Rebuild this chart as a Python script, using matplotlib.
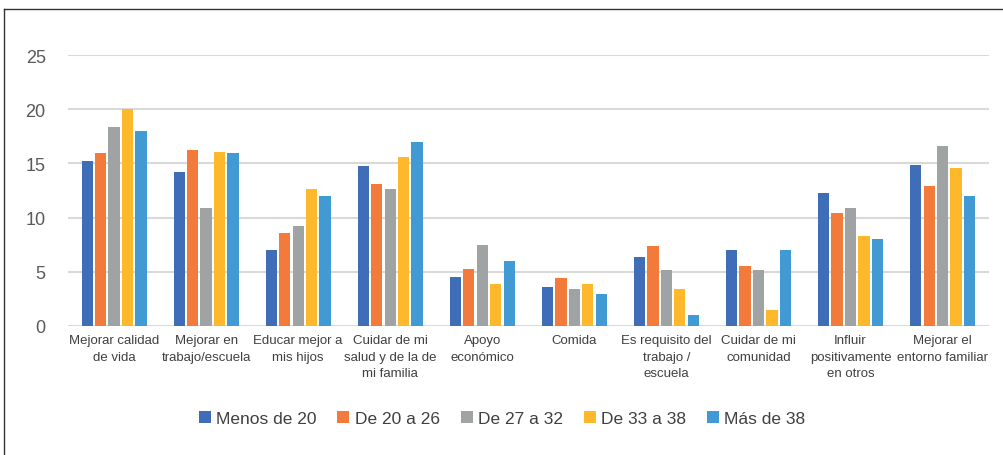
import numpy as np
import matplotlib
matplotlib.use("Agg")
import matplotlib.pyplot as plt
from matplotlib.lines import Line2D
from matplotlib.patches import Patch

categories = [
    "Mejorar calidad\nde vida",
    "Mejorar en\ntrabajo/escuela",
    "Educar mejor a\nmis hijos",
    "Cuidar de mi\nsalud y de la de\nmi familia",
    "Apoyo\neconómico",
    "Comida",
    "Es requisito del\ntrabajo /\nescuela",
    "Cuidar de mi\ncomunidad",
    "Influir\npositivamente\nen otros",
    "Mejorar el\nentorno familiar",
]
series_names = ["Menos de 20", "De 20 a 26", "De 27 a 32", "De 33 a 38", "Más de 38"]
menos_20 = [15.25, 14.2, 7.0, 14.8, 4.5, 3.55, 6.35, 7.0, 12.3, 14.9]
de_20_26 = [16.0, 16.2, 8.6, 13.1, 5.3, 4.4, 7.35, 5.5, 10.45, 12.9]
de_27_32 = [18.4, 10.9, 9.2, 12.6, 7.5, 3.4, 5.15, 5.15, 10.9, 16.6]
de_33_38 = [20.0, 16.1, 12.65, 15.6, 3.9, 3.9, 3.4, 1.45, 8.3, 14.6]
mas_38 = [18.0, 16.0, 12.0, 17.0, 6.0, 2.95, 1.0, 7.0, 8.0, 12.0]
yticks = [0, 5, 10, 15, 20, 25]

series = [menos_20, de_20_26, de_27_32, de_33_38, mas_38]
colors = ["#3F6DB7", "#F27A3A", "#A0A3A4", "#FDB82B", "#419AD3"]

plt.rcParams["font.family"] = ["Liberation Sans Narrow", "Liberation Sans", "DejaVu Sans"]

fig = plt.figure(figsize=(10.04, 4.56), dpi=100)
ax = fig.add_axes([0.0677, 0.283, 0.917, 0.594])

x = np.arange(len(categories))
step = 0.146
for i, (vals, col) in enumerate(zip(series, colors)):
    ax.bar(x + (i - 2) * step, vals, width=0.122, color=col, zorder=3)

ax.set_xlim(-0.5, len(categories) - 0.5)
ax.set_ylim(0, 25)
ax.set_yticks(yticks)
ax.set_yticklabels([str(t) for t in yticks], fontsize=13, color="#595959")
ax.grid(axis="y", color="#D9D9D9", linewidth=1.5, zorder=0)
ax.set_axisbelow(True)
for s in ax.spines.values():
    s.set_visible(False)
ax.tick_params(axis="y", length=0, pad=16)
ax.tick_params(axis="x", length=0, pad=6)
ax.set_xticks(x)
ax.set_xticklabels(categories, fontsize=9.5, color="#404040", linespacing=1.5)

handles = [Patch(facecolor=c) for c in colors]
fig.legend(handles, series_names, loc="center", bbox_to_anchor=(0.5, 0.08),
           ncol=5, frameon=False, fontsize=12.5, handlelength=0.7, handleheight=0.7,
           handletextpad=0.3, columnspacing=1.2, labelcolor="#404040")

# outer frame (left and top edges)
fig.add_artist(Line2D([4 / 1004, 4 / 1004], [0, 1 - 10 / 456], transform=fig.transFigure,
                      color="#333333", linewidth=1))
fig.add_artist(Line2D([4 / 1004, 1], [1 - 10 / 456, 1 - 10 / 456], transform=fig.transFigure,
                      color="#333333", linewidth=1))

fig.savefig("out.png", dpi=100)
